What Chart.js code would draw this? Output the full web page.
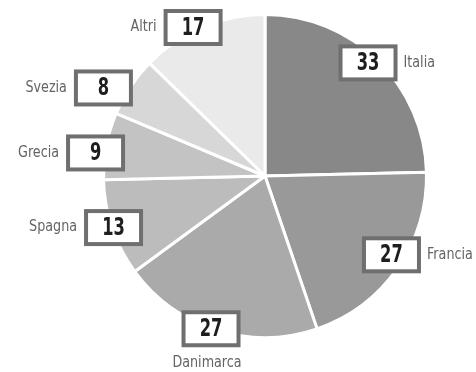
<!DOCTYPE html>
<html>
<head>
<meta charset="utf-8">
<script src="https://cdn.jsdelivr.net/npm/chart.js@4/dist/chart.umd.min.js"></script>
<style>
  html, body { margin: 0; padding: 0; background: #fff; }
  #wrap { width: 476px; height: 372px; position: relative; }
</style>
</head>
<body>
<div id="wrap"><canvas id="chart-pie"></canvas></div>
<script>
// ==================== 데이터 ====================
const labels = ['Italia', 'Francia', 'Danimarca', 'Spagna', 'Grecia', 'Svezia', 'Altri'];
const values = [33, 27, 27, 13, 9, 8, 17];
const colors = ['#888888', '#999999', '#aaaaaa', '#bcbcbc', '#c3c3c3', '#d7d7d7', '#eaeaea'];

// label layout: distance of box centre from pie centre (px), angle tweak (deg), where the name goes
const boxDist = [153, 149, 162, 160, 171, 184, 165];
const angleTweak = [-2, -3, 2, 0, -3, -5, -3];
const nameSide = ['right', 'right', 'below', 'left', 'left', 'left', 'left'];

// draw text squeezed horizontally (condensed look)
function squeezedText(ctx, text, x, y, sx) {
  ctx.save();
  ctx.translate(x, y);
  ctx.scale(sx, 1);
  ctx.fillText(text, 0, 0);
  ctx.restore();
}

const boxLabels = {
  id: 'boxLabels',
  afterDatasetsDraw(chart) {
    const ctx = chart.ctx;
    const meta = chart.getDatasetMeta(0);
    meta.data.forEach((arc, i) => {
      const mid = (arc.startAngle + arc.endAngle) / 2 + angleTweak[i] * Math.PI / 180;
      const cx = arc.x + Math.cos(mid) * boxDist[i];
      const cy = arc.y + Math.sin(mid) * boxDist[i];
      const w = 55, h = 33;
      ctx.save();
      ctx.fillStyle = '#fff';
      ctx.strokeStyle = '#6f6f6f';
      ctx.lineWidth = 4;
      ctx.fillRect(cx - w / 2, cy - h / 2, w, h);
      ctx.strokeRect(cx - w / 2, cy - h / 2, w, h);
      ctx.fillStyle = '#1e1e1e';
      ctx.font = 'bold 24px "DejaVu Sans", sans-serif';
      ctx.textAlign = 'center';
      ctx.textBaseline = 'middle';
      squeezedText(ctx, String(values[i]), cx, cy + 1, 0.68);

      ctx.fillStyle = '#646464';
      ctx.font = '15px "DejaVu Sans", sans-serif';
      const nw = ctx.measureText(labels[i]).width * 0.85;
      if (nameSide[i] === 'right') {
        squeezedText(ctx, labels[i], cx + w / 2 + 8 + nw / 2, cy, 0.85);
      } else if (nameSide[i] === 'left') {
        squeezedText(ctx, labels[i], cx - w / 2 - 9 - nw / 2, cy, 0.85);
      } else {
        squeezedText(ctx, labels[i], cx - 4, cy + h / 2 + 18, 0.85);
      }
      ctx.restore();
    });
  }
};

new Chart(document.getElementById('chart-pie'), {
  type: 'pie',
  data: {
    labels: labels,
    datasets: [{ data: values, backgroundColor: colors, borderColor: '#fff', borderWidth: 3 }]
  },
  options: {
    responsive: true, maintainAspectRatio: false, animation: false,
    layout: { padding: { left: 102, right: 48, top: 13, bottom: 33 } },
    plugins: { legend: { display: false }, tooltip: { enabled: false } }
  },
  plugins: [boxLabels]
});
</script>
</body>
</html>
